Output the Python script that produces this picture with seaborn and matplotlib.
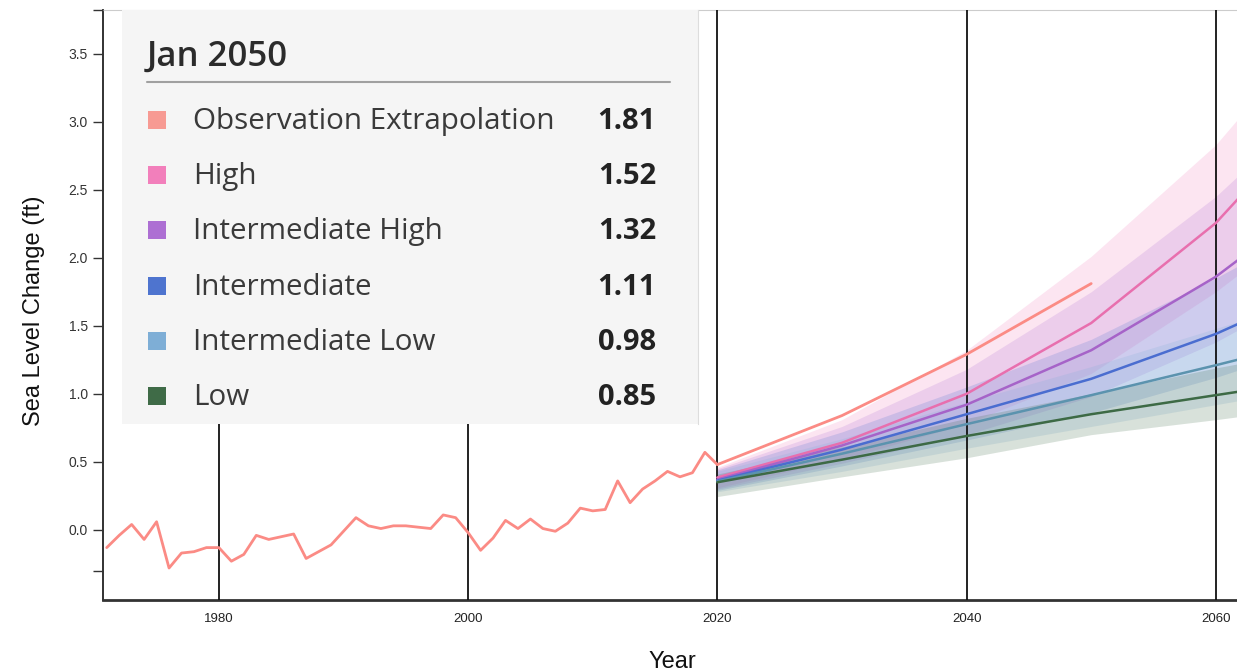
import numpy as np
import pandas as pd
import seaborn as sns
import matplotlib.pyplot as plt
from matplotlib.patches import Rectangle

# observed sea level (ft), 1971-2020
obs_years = list(range(1971, 2021))
obs_level = [-0.13, -0.04, 0.04, -0.07, 0.06, -0.28, -0.17, -0.16, -0.13, -0.13,
             -0.23, -0.18, -0.04, -0.07, -0.05, -0.03, -0.21, -0.16, -0.11, -0.01,
             0.09, 0.03, 0.01, 0.03, 0.03, 0.02, 0.01, 0.11, 0.09, -0.02,
             -0.15, -0.06, 0.07, 0.01, 0.08, 0.01, -0.01, 0.05, 0.16, 0.14,
             0.15, 0.36, 0.20, 0.30, 0.36, 0.43, 0.39, 0.42, 0.57, 0.48]

# projections
ext_years = [2020, 2030, 2040, 2050]
ext_level = [0.48, 0.84, 1.29, 1.81]

proj_years = [2020, 2030, 2040, 2050, 2060, 2070]
high = [0.385, 0.64, 1.00, 1.52, 2.255, 3.25]
high_lo = [0.31, 0.52, 0.78, 1.15, 1.75, 2.45]
high_hi = [0.46, 0.81, 1.32, 2.01, 2.83, 3.90]
int_high = [0.37, 0.62, 0.92, 1.32, 1.86, 2.55]
int_high_lo = [0.30, 0.49, 0.70, 0.98, 1.38, 1.88]
int_high_hi = [0.45, 0.76, 1.18, 1.75, 2.45, 3.30]
inter = [0.362, 0.59, 0.85, 1.11, 1.44, 1.85]
inter_lo = [0.29, 0.47, 0.66, 0.86, 1.12, 1.42]
inter_hi = [0.44, 0.72, 1.05, 1.40, 1.85, 2.35]
int_low = [0.356, 0.56, 0.777, 0.99, 1.21, 1.44]
int_low_lo = [0.28, 0.43, 0.60, 0.76, 0.92, 1.08]
int_low_hi = [0.43, 0.67, 0.94, 1.20, 1.48, 1.76]
low = [0.35, 0.516, 0.69, 0.85, 0.99, 1.13]
low_lo = [0.245, 0.39, 0.53, 0.70, 0.81, 0.93]
low_hi = [0.41, 0.61, 0.82, 1.00, 1.19, 1.36]

names = ["Observation Extrapolation", "High", "Intermediate High",
         "Intermediate", "Intermediate Low", "Low"]
jan2050 = ["1.81", "1.52", "1.32", "1.11", "0.98", "0.85"]
key_colors = ["#f79a93", "#f27fbb", "#ad6fd3", "#4e74cf", "#7eaed6", "#3f6b47"]
line_colors = ["#fb8b85", "#e86fae", "#a663c8", "#4a6dd0", "#5b93ae", "#3d6a45"]

sns.set_style("white")
plt.rcParams["font.family"] = ["Liberation Sans", "DejaVu Sans"]

fig = plt.figure(figsize=(12.37, 6.72), dpi=100)
ax = fig.add_axes([103 / 1237, 72 / 672, 1134 / 1237, 590 / 672])

series = [high, int_high, inter, int_low, low]
lows = [high_lo, int_high_lo, inter_lo, int_low_lo, low_lo]
highs = [high_hi, int_high_hi, inter_hi, int_low_hi, low_hi]

for lo, hi, c in zip(lows, highs, key_colors[1:]):
    ax.fill_between(proj_years, lo, hi, color=c, alpha=0.2, lw=0, zorder=1)

proj = pd.concat([pd.DataFrame({"year": proj_years, "level": s, "scenario": n})
                  for s, n in zip(series, names[1:])])
sns.lineplot(data=proj, x="year", y="level", hue="scenario",
             palette=dict(zip(names[1:], line_colors[1:])),
             legend=False, lw=1.8, ax=ax, zorder=3)
sns.lineplot(x=ext_years, y=ext_level, color=line_colors[0], lw=2, ax=ax, zorder=3)
sns.lineplot(x=obs_years, y=obs_level, color=line_colors[0], lw=2, ax=ax, zorder=3)

ax.set_xlim(1970.7, 2061.7)
ax.set_ylim(-0.515, 3.82)
ax.set_xticks([1980, 2000, 2020, 2040, 2060])
ax.set_yticks([-0.3, 0, 0.5, 1.0, 1.5, 2.0, 2.5, 3.0, 3.5, 3.82])
ax.set_yticklabels(["", "0.0", "0.5", "1.0", "1.5", "2.0", "2.5", "3.0", "3.5", ""])
ax.set_axisbelow(False)
ax.grid(axis="x", color="#111111", lw=1.3)
ax.grid(axis="y", visible=False)
ax.tick_params(axis="x", length=0, pad=9, labelsize=9.5, labelcolor="#222222")
ax.tick_params(axis="y", length=7, width=1, color="#333333", pad=4,
               labelsize=10, labelcolor="#333333", left=True)
ax.spines["right"].set_visible(False)
ax.spines["top"].set_color("#cccccc")
ax.spines["left"].set_color("#222222")
ax.spines["left"].set_linewidth(1.3)
ax.spines["bottom"].set_color("#333333")
ax.spines["bottom"].set_linewidth(2)

ax.set_xlabel("Year", fontsize=17, color="#111111")
ax.set_ylabel("Sea Level Change (ft)", fontsize=17, color="#111111")
ax.xaxis.set_label_coords(0.502, -0.086)
ax.yaxis.set_label_coords(-0.051, 0.49)

# hover key panel
pan = fig.add_axes([122 / 1237, 248 / 672, 576 / 1237, 414 / 672])
pan.set_facecolor("#f5f5f5")
pan.set_xlim(0, 576)
pan.set_ylim(414, 0)
pan.set_xticks([])
pan.set_yticks([])
for s in ["left", "top", "bottom"]:
    pan.spines[s].set_visible(False)
pan.spines["right"].set_color("#dddddd")

font = ["Open Sans", "DejaVu Sans"]
pan.text(25, 47, "Jan 2050", fontsize=25, fontweight="semibold", color="#2b2b2b",
         va="center", ha="left", family=font)
pan.plot([25, 548], [72, 72], color="#a0a0a0", lw=1.5)
for i, (n, v, c) in enumerate(zip(names, jan2050, key_colors)):
    yy = 110 + i * 55.2
    pan.add_patch(Rectangle((26, yy - 9), 18, 18, color=c, lw=0))
    pan.text(71, yy + 1.5, n, fontsize=21.3, color="#3a3a3a", va="center",
             ha="left", family=font)
    pan.text(534, yy + 1.5, v, fontsize=21, fontweight="bold", color="#222222",
             va="center", ha="right", family=font)

fig.savefig("out.png", dpi=100)
